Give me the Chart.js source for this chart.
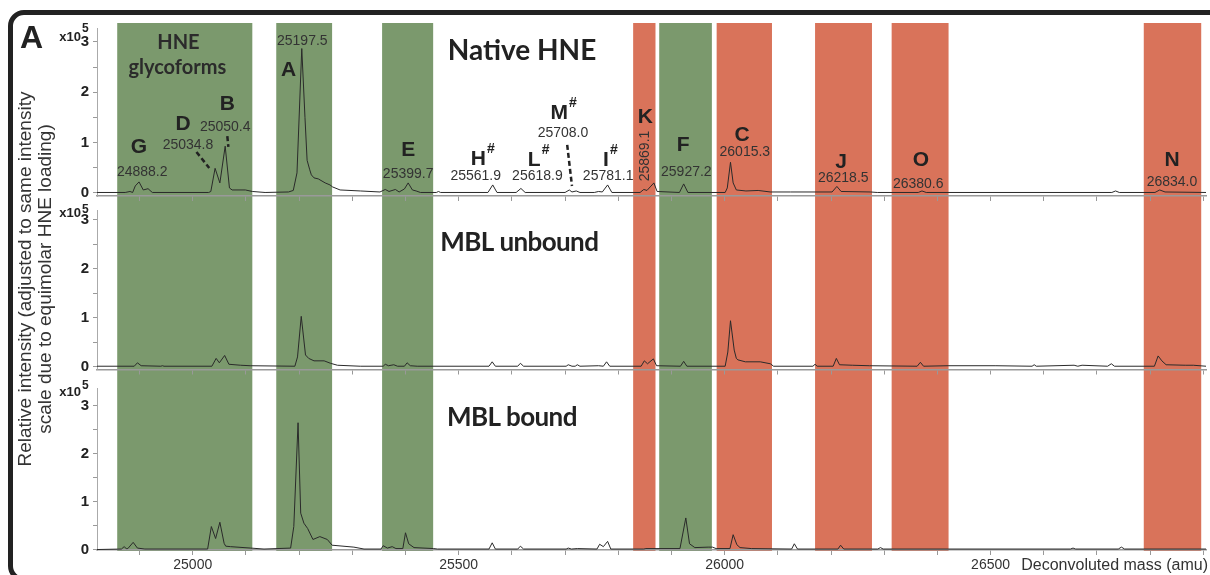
<!DOCTYPE html>
<html>
<head>
<meta charset="utf-8">
<title>HNE glycoforms - MBL</title>
<script src="https://cdn.jsdelivr.net/npm/chart.js@4.4.1/dist/chart.umd.min.js"></script>
<style>
  body { margin: 0; width: 1210px; height: 575px; overflow: hidden; background: #fff; position: relative; font-family: "Liberation Sans", Arial, sans-serif; }
  canvas { position: absolute; left: 0; }
  #c1 { top: 0; }
  #c2 { top: 203px; }
  #c3 { top: 378px; }
  .marco { position: absolute; left: 8px; top: 10px; width: 1260px; height: 572px; border: 5px solid #222; border-radius: 16px; box-sizing: border-box; pointer-events: none; }
  .letra { position: absolute; left: 20px; top: 21px; font: bold 32px/32px "Liberation Sans", Arial, sans-serif; color: #222; }
  .ytitulo { position: absolute; left: -165px; top: 259px; width: 400px; height: 40px; transform: rotate(-90deg); text-align: center; font-size: 19px; line-height: 20px; color: #333; white-space: nowrap; }
  .xtitulo { position: absolute; right: 2px; top: 556px; font-size: 16px; line-height: 18px; color: #333; }
</style>
</head>
<body>
<canvas id="c1" width="1210" height="203"></canvas>
<canvas id="c2" width="1210" height="175"></canvas>
<canvas id="c3" width="1210" height="197"></canvas>
<div class="marco"></div>
<div class="letra">A</div>
<div class="ytitulo">Relative intensity (adjusted to same intensity<br>scale due to equimolar HNE loading)</div>
<div class="xtitulo">Deconvoluted mass (amu)</div>
<script>
const FUENTE = '"Liberation Sans", Arial, sans-serif'
const FUENTE_TITULO = 'Lato, "Open Sans", sans-serif'
const VERDE = '#7b996d'
const ROJO = '#d9735a'

// Ejes: masa deconvolucionada (amu) e intensidad (x10^5)
const xTicks = [24900, 25000, 25100, 25200, 25300, 25400, 25500, 25600, 25700, 25800, 25900, 26000, 26100, 26200, 26300, 26400, 26500, 26600, 26700, 26800, 26900]
const yTicks = [0, 0.5, 1, 1.5, 2, 2.5, 3]

// Bandas de color (glicoformas en verde, resto en rojo)
const bandaDesde = [24858, 25157, 25356, 25828, 25877, 25985, 26170, 26314, 26788]
const bandaHasta = [25112, 25262, 25452, 25870, 25976, 26089, 26277, 26421, 26896]
const bandaTipo = ['g', 'g', 'g', 'r', 'g', 'r', 'r', 'r', 'r']

// Espectro HNE nativa
const masaNativa = [24820, 24873, 24882, 24887, 24892, 24899, 24907, 24916, 24924, 25030, 25034, 25042, 25051, 25061, 25069, 25074, 25099, 25112, 25136, 25180, 25189, 25196, 25205, 25211, 25215, 25220, 25223, 25228, 25236, 25249, 25258, 25263, 25277, 25315, 25352, 25362, 25369, 25381, 25388, 25398, 25405, 25413, 25420, 25428, 25458, 25462, 25466, 25555, 25564, 25572, 25608, 25617, 25625, 25700, 25708, 25713, 25721, 25728, 25755, 25763, 25770, 25780, 25788, 25841, 25848, 25854, 25860, 25867, 25873, 25915, 25923, 25931, 26001, 26005, 26011, 26016, 26022, 26040, 26063, 26086, 26124, 26202, 26211, 26219, 26274, 26287, 26364, 26371, 26379, 26728, 26735, 26742, 26809, 26818, 26828, 26905]
const intNativa = [0.01, 0.01, 0.03, 0.01, 0.14, 0.22, 0.06, 0.085, 0.01, 0.01, 0.03, 0.49, 0.2, 0.93, 0.1, 0.06, 0.06, 0.03, 0.01, 0.02, 0.05, 0.4, 2.87, 1.5, 0.65, 0.46, 0.36, 0.3, 0.28, 0.2, 0.16, 0.12, 0.06, 0.04, 0.02, 0.07, 0.03, 0.07, 0.02, 0.08, 0.2, 0.06, 0.04, 0.01, 0.01, 0.03, 0.01, 0.01, 0.16, 0.01, 0.01, 0.09, 0.01, 0.01, 0.06, 0.02, 0.04, 0.01, 0.01, 0.03, 0.02, 0.16, 0.01, 0.01, 0.07, 0.05, 0.12, 0.2, 0.03, 0.01, 0.18, 0.01, 0.01, 0.1, 0.61, 0.2, 0.06, 0.04, 0.05, 0.02, 0.02, 0.02, 0.13, 0.03, 0.02, 0.01, 0.01, 0.04, 0.01, 0.01, 0.04, 0.01, 0.01, 0.06, 0.02, 0.01]

// Espectro MBL no unida
const masaLibre = [24820, 24890, 24896, 24903, 24940, 24943, 24946, 25036, 25044, 25050, 25060, 25068, 25090, 25108, 25192, 25197, 25204, 25212, 25218, 25228, 25247, 25259, 25272, 25315, 25358, 25362, 25368, 25378, 25385, 25398, 25403, 25409, 25422, 25557, 25563, 25569, 25611, 25616, 25622, 25702, 25706, 25713, 25719, 25723, 25728, 25763, 25772, 25778, 25784, 25843, 25849, 25855, 25866, 25872, 25917, 25923, 25929, 26001, 26006, 26011, 26018, 26022, 26025, 26039, 26067, 26086, 26092, 26166, 26170, 26174, 26204, 26210, 26216, 26240, 26272, 26362, 26368, 26374, 26420, 26510, 26578, 26582, 26586, 26657, 26664, 26672, 26720, 26727, 26733, 26808, 26815, 26822, 26830, 26866, 26881, 26905]
const intLibre = [0.01, 0.01, 0.08, 0.02, 0.01, 0.02, 0.01, 0.01, 0.17, 0.08, 0.23, 0.05, 0.03, 0.02, 0.01, 0.2, 1.03, 0.24, 0.17, 0.12, 0.12, 0.07, 0.03, 0.01, 0.01, 0.05, 0.02, 0.04, 0.01, 0.01, 0.08, 0.02, 0.01, 0.01, 0.1, 0.01, 0.01, 0.07, 0.01, 0.01, 0.04, 0.01, 0.01, 0.04, 0.01, 0.02, 0.01, 0.1, 0.01, 0.01, 0.12, 0.06, 0.16, 0.02, 0.01, 0.11, 0.01, 0.01, 0.3, 0.94, 0.34, 0.17, 0.14, 0.1, 0.1, 0.06, 0.01, 0.01, 0.05, 0.01, 0.01, 0.17, 0.04, 0.03, 0.02, 0.01, 0.09, 0.01, 0.02, 0.02, 0.01, 0.04, 0.01, 0.03, 0.01, 0.03, 0.01, 0.06, 0.01, 0.01, 0.22, 0.12, 0.04, 0.03, 0.03, 0.01]

// Espectro MBL unida
const masaUnida = [24820, 24866, 24871, 24875, 24878, 24888, 24896, 24910, 25028, 25035, 25043, 25051, 25059, 25062, 25071, 25109, 25134, 25184, 25190, 25198, 25203, 25209, 25216, 25226, 25239, 25253, 25262, 25303, 25322, 25354, 25358, 25366, 25375, 25382, 25395, 25400, 25406, 25416, 25453, 25460, 25557, 25563, 25569, 25611, 25616, 25622, 25702, 25706, 25712, 25723, 25760, 25765, 25772, 25780, 25786, 25848, 25852, 25871, 25916, 25927, 25934, 25944, 25969, 25977, 25984, 26010, 26016, 26023, 26029, 26050, 26126, 26131, 26137, 26213, 26218, 26224, 26288, 26293, 26298, 26650, 26655, 26660, 26740, 26746, 26752, 26905]
const intUnida = [0, 0.01, 0.06, 0.02, 0.02, 0.15, 0.03, 0.01, 0.01, 0.48, 0.23, 0.57, 0.13, 0.07, 0.06, 0.03, 0.01, 0.03, 0.48, 2.65, 0.76, 0.55, 0.44, 0.21, 0.27, 0.21, 0.09, 0.05, 0.01, 0.01, 0.08, 0.03, 0.06, 0.02, 0.02, 0.35, 0.12, 0.04, 0.02, 0.01, 0.01, 0.14, 0.01, 0.01, 0.07, 0.01, 0.01, 0.03, 0.01, 0.02, 0.01, 0.11, 0.06, 0.17, 0.01, 0.01, 0.02, 0.02, 0.02, 0.66, 0.12, 0.04, 0.05, 0.05, 0.02, 0.02, 0.31, 0.1, 0.04, 0.02, 0.01, 0.12, 0.01, 0.01, 0.09, 0.01, 0.01, 0.04, 0.01, 0.01, 0.03, 0.01, 0.01, 0.05, 0.01, 0.01]

// Rótulos: [texto, masa, intensidad, tipo]
const rotulosNativa = [
  ['HNE', 24973, 2.98, 'sub'],
  ['glycoforms', 24971, 2.50, 'sub'],
  ['Native HNE', 25619, 2.82, 'titulo'],
  ['G', 24899, 0.91, 'letra'],
  ['24888.2', 24905, 0.42, 'masa'],
  ['D', 24982, 1.37, 'letra'],
  ['25034.8', 24991, 0.95, 'masa'],
  ['B', 25065, 1.77, 'letra'],
  ['25050.4', 25061, 1.31, 'masa'],
  ['A', 25180, 2.44, 'letra'],
  ['25197.5', 25206, 3.02, 'masa'],
  ['E', 25405, 0.85, 'letra'],
  ['25399.7', 25405, 0.38, 'masa'],
  ['H#', 25537, 0.68, 'letra'],
  ['25561.9', 25532, 0.34, 'masa'],
  ['L#', 25642, 0.66, 'letra'],
  ['25618.9', 25648, 0.34, 'masa'],
  ['M#', 25689, 1.59, 'letra'],
  ['25708.0', 25696, 1.19, 'masa'],
  ['I#', 25777, 0.66, 'letra'],
  ['25781.1', 25781, 0.34, 'masa'],
  ['K', 25851, 1.51, 'letra'],
  ['25869.1', 25851, 0.735, 'giro'],
  ['F', 25922, 0.95, 'letra'],
  ['25927.2', 25928, 0.42, 'masa'],
  ['C', 26033, 1.15, 'letra'],
  ['26015.3', 26038, 0.81, 'masa'],
  ['J', 26219, 0.62, 'letra'],
  ['26218.5', 26223, 0.30, 'masa'],
  ['O', 26369, 0.66, 'letra'],
  ['26380.6', 26364, 0.18, 'masa'],
  ['N', 26841, 0.66, 'letra'],
  ['26834.0', 26841, 0.22, 'masa']
]
// líneas punteadas que señalan picos: [masa1, int1, masa2, int2]
const guionesNativa = [[25007, 0.815, 25031, 0.497], [25065, 1.13, 25067, 0.914], [25704, 0.954, 25713, 0.139]]
const rotulosLibre = [['MBL unbound', 25614, 2.53, 'titulo2']]
const rotulosUnida = [['MBL bound', 25600, 2.75, 'titulo2']]


// Bandas verticales que atraviesan los tres paneles
function pluginBandas(cortaArriba, cortaAbajo) {
  return {
    id: 'bandas',
    beforeDraw(chart) {
      const {ctx, chartArea, scales} = chart
      const arriba = cortaArriba ? chartArea.top - 5 : 0
      const abajo = cortaAbajo ? chartArea.bottom + 1 : chart.height
      ctx.save()
      bandaDesde.forEach((desde, i) => {
        const x1 = scales.x.getPixelForValue(desde)
        const x2 = scales.x.getPixelForValue(bandaHasta[i])
        ctx.fillStyle = bandaTipo[i] == 'g' ? VERDE : ROJO
        ctx.fillRect(x1, arriba, x2 - x1, abajo - arriba)
      })
      ctx.restore()
    }
  }
}

// Textos: x10^5, rótulos de picos y guiones
function pluginTextos(rotulos, guiones, desp, despSup) {
  return {
    id: 'textos',
    afterDraw(chart) {
      const {ctx, chartArea, scales} = chart
      ctx.save()
      ctx.fillStyle = '#222'
      ctx.textBaseline = 'middle'
      ctx.font = 'bold 13px ' + FUENTE
      ctx.textAlign = 'right'
      const ex = chartArea.left - 16
      const ey = chartArea.top + desp
      ctx.fillText('x10', ex, ey)
      ctx.textAlign = 'left'
      ctx.font = 'bold 12px ' + FUENTE
      ctx.fillText('5', ex + 1, ey + despSup)

      rotulos.forEach(([texto, masa, valor, tipo]) => {
        const px = scales.x.getPixelForValue(masa)
        const py = scales.y.getPixelForValue(valor)
        ctx.textAlign = 'center'
        if (tipo == 'masa') {
          ctx.fillStyle = '#333'
          ctx.font = '14px ' + FUENTE
          ctx.fillText(texto, px, py)
        } else if (tipo == 'giro') {
          ctx.fillStyle = '#333'
          ctx.font = '14px ' + FUENTE
          ctx.save()
          ctx.translate(px, py)
          ctx.rotate(-Math.PI / 2)
          ctx.fillText(texto, 0, 0)
          ctx.restore()
        } else if (tipo == 'letra') {
          ctx.fillStyle = '#222'
          ctx.font = 'bold 21px ' + FUENTE
          const letra = texto.replace('#', '')
          ctx.fillText(letra, px, py)
          if (texto.includes('#')) {
            const w = ctx.measureText(letra).width
            ctx.font = 'bold 14px ' + FUENTE
            ctx.textAlign = 'left'
            ctx.fillText('#', px + w / 2 + 1, py - 10)
          }
        } else if (tipo == 'titulo') {
          ctx.fillStyle = '#222'
          ctx.font = 'bold 28px ' + FUENTE_TITULO
          ctx.fillText(texto, px, py)
        } else if (tipo == 'titulo2') {
          ctx.fillStyle = '#222'
          ctx.font = 'bold 26px ' + FUENTE_TITULO
          ctx.letterSpacing = '-0.6px'
          ctx.fillText(texto, px, py)
          ctx.letterSpacing = '0px'
        } else {
          ctx.fillStyle = '#2b2b2b'
          ctx.font = 'bold 20px ' + FUENTE_TITULO
          ctx.fillText(texto, px, py)
        }
      })

      ctx.strokeStyle = '#222'
      ctx.lineWidth = 2.5
      ctx.setLineDash([5, 3])
      guiones.forEach(([m1, v1, m2, v2]) => {
        ctx.beginPath()
        ctx.moveTo(scales.x.getPixelForValue(m1), scales.y.getPixelForValue(v1))
        ctx.lineTo(scales.x.getPixelForValue(m2), scales.y.getPixelForValue(v2))
        ctx.stroke()
      })
      ctx.restore()
    }
  }
}

function crearGrafica(id, masas, intensidades, p) {
  const puntos = masas.map((m, i) => ({x: m, y: intensidades[i]}))
  return new Chart(document.getElementById(id), {
    type: 'line',
    data: {
      datasets: [{
        data: puntos,
        borderColor: '#2a2a2a',
        borderWidth: 1,
        pointRadius: 0,
        tension: 0
      }]
    },
    options: {
      responsive: false,
      animation: false,
      layout: { padding: { top: p.arriba, right: 4, left: 0, bottom: 0 } },
      plugins: { legend: { display: false }, tooltip: { enabled: false } },
      scales: {
        x: {
          type: 'linear',
          min: 24820,
          max: 26905,
          afterBuildTicks: s => { s.ticks = xTicks.map(v => ({value: v})) },
          afterFit: s => { s.height = p.altoX; s.paddingLeft = 0; s.paddingRight = 0 },
          ticks: {
            display: p.etiquetasX,
            autoSkip: false,
            maxRotation: 0,
            padding: 2,
            color: '#333',
            font: { size: 14, family: FUENTE },
            callback: v => v % 500 == 0 ? String(v) : ''
          },
          grid: { drawOnChartArea: false, tickLength: 5, color: '#999' },
          border: { color: '#9a9a9a', width: 1.5 }
        },
        y: {
          min: p.min,
          max: p.max,
          afterBuildTicks: s => { s.ticks = yTicks.map(v => ({value: v})) },
          afterFit: s => { s.width = 97; s.paddingTop = 0; s.paddingBottom = 0 },
          ticks: {
            autoSkip: false,
            padding: 4,
            color: '#222',
            font: { size: 15, weight: 'bold', family: FUENTE },
            callback: v => Number.isInteger(v) ? String(v) : ''
          },
          grid: { drawOnChartArea: false, tickLength: 4, color: '#999' },
          border: { color: '#aaa', width: 1 }
        }
      }
    },
    plugins: [pluginBandas(p.cortaArriba, p.cortaAbajo), pluginTextos(p.rotulos, p.guiones, p.desp, p.despSup)]
  })
}

crearGrafica('c1', masaNativa, intNativa, {
  arriba: 28, altoX: 7, min: -0.06, max: 3.278, etiquetasX: false,
  cortaArriba: true, cortaAbajo: false,
  rotulos: rotulosNativa, guiones: guionesNativa, desp: 9.5, despSup: -8.5
})
crearGrafica('c2', masaLibre, intLibre, {
  arriba: 7, altoX: 8.5, min: -0.057, max: 3.204, etiquetasX: false,
  cortaArriba: false, cortaAbajo: false,
  rotulos: rotulosLibre, guiones: [], desp: 3.5, despSup: -3.5
})
crearGrafica('c3', masaUnida, intUnida, {
  arriba: 10, altoX: 25, min: -0.01, max: 3.376, etiquetasX: true,
  cortaArriba: false, cortaAbajo: true,
  rotulos: rotulosUnida, guiones: [], desp: 4, despSup: -6
})
</script>
</body>
</html>
